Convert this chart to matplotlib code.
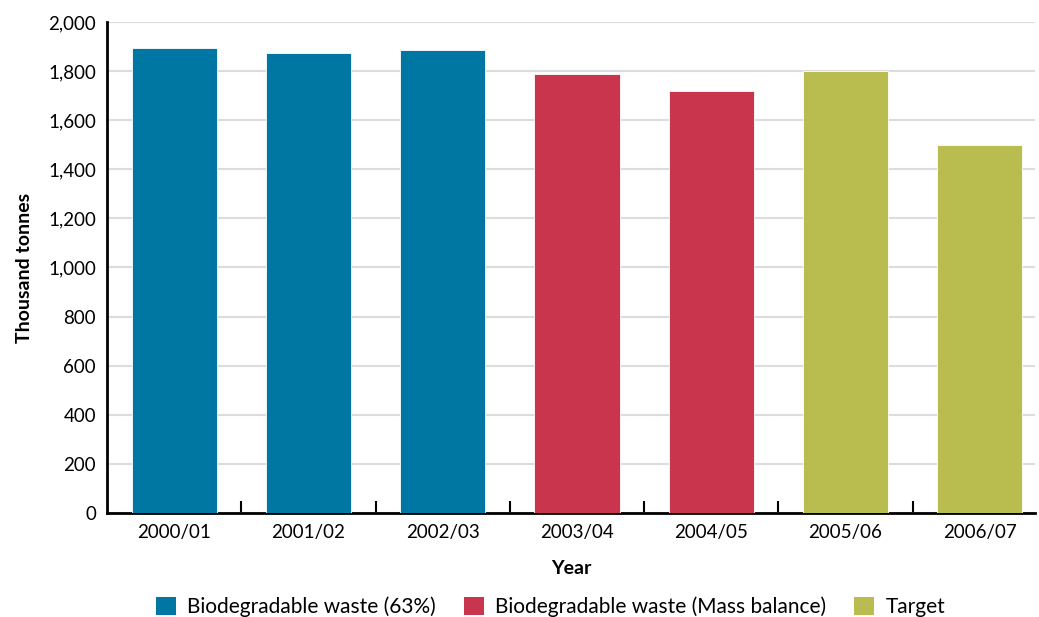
import matplotlib.pyplot as plt
from matplotlib.patches import Patch
from matplotlib.ticker import FuncFormatter, FixedLocator

plt.rcParams['font.family'] = ['Lato', 'DejaVu Sans']

years = ['2000/01', '2001/02', '2002/03', '2003/04', '2004/05', '2005/06', '2006/07']
tonnes = [1895, 1875, 1885, 1790, 1720, 1800, 1500]
series = ['Biodegradable waste (63%)', 'Biodegradable waste (63%)', 'Biodegradable waste (63%)',
          'Biodegradable waste (Mass balance)', 'Biodegradable waste (Mass balance)',
          'Target', 'Target']
legend_order = ['Biodegradable waste (63%)', 'Biodegradable waste (Mass balance)', 'Target']
palette = {
    'Biodegradable waste (63%)': '#0077a3',
    'Biodegradable waste (Mass balance)': '#c8354d',
    'Target': '#b9bc4e',
}

fig = plt.figure(figsize=(10.39, 6.17), dpi=100)
ax = fig.add_axes([0.103, 0.169, 0.893, 0.795])

x = list(range(len(years)))
ax.bar(x, tonnes, width=0.635, color=[palette[s] for s in series],
       edgecolor='white', linewidth=0.6, zorder=3)

ax.set_xlim(-0.5, 6.41)
ax.set_ylim(0, 2000)
ax.set_yticks(range(0, 2001, 200))
ax.yaxis.set_major_formatter(FuncFormatter(lambda v, p: f'{int(v):,}'))
ax.yaxis.grid(True, color='#dcdcdc', linewidth=1.5, zorder=0)
ax.tick_params(axis='y', length=0, labelsize=13.5, pad=8)

ax.set_xticks(x)
ax.set_xticklabels(years)
ax.xaxis.set_minor_locator(FixedLocator([i + 0.5 for i in range(len(years) - 1)]))
ax.tick_params(axis='x', which='major', length=0, labelsize=13.5, pad=8)
ax.tick_params(axis='x', which='minor', direction='in', length=9, width=1.5)

for side in ['top', 'right']:
    ax.spines[side].set_visible(False)
for side in ['left', 'bottom']:
    ax.spines[side].set_linewidth(2)

ax.set_ylabel('Thousand tonnes', fontsize=14, fontweight='bold', labelpad=11)
ax.set_xlabel('Year', fontsize=14, fontweight='bold', labelpad=14)

handles = [Patch(facecolor=palette[s], label=s) for s in legend_order]
fig.legend(handles=handles, loc='lower center', bbox_to_anchor=(0.53, -0.03), ncol=3,
           frameon=False, fontsize=15, handlelength=0.95, handleheight=0.95,
           columnspacing=1.35, handletextpad=0.55)

fig.savefig('out.png', dpi=100)
